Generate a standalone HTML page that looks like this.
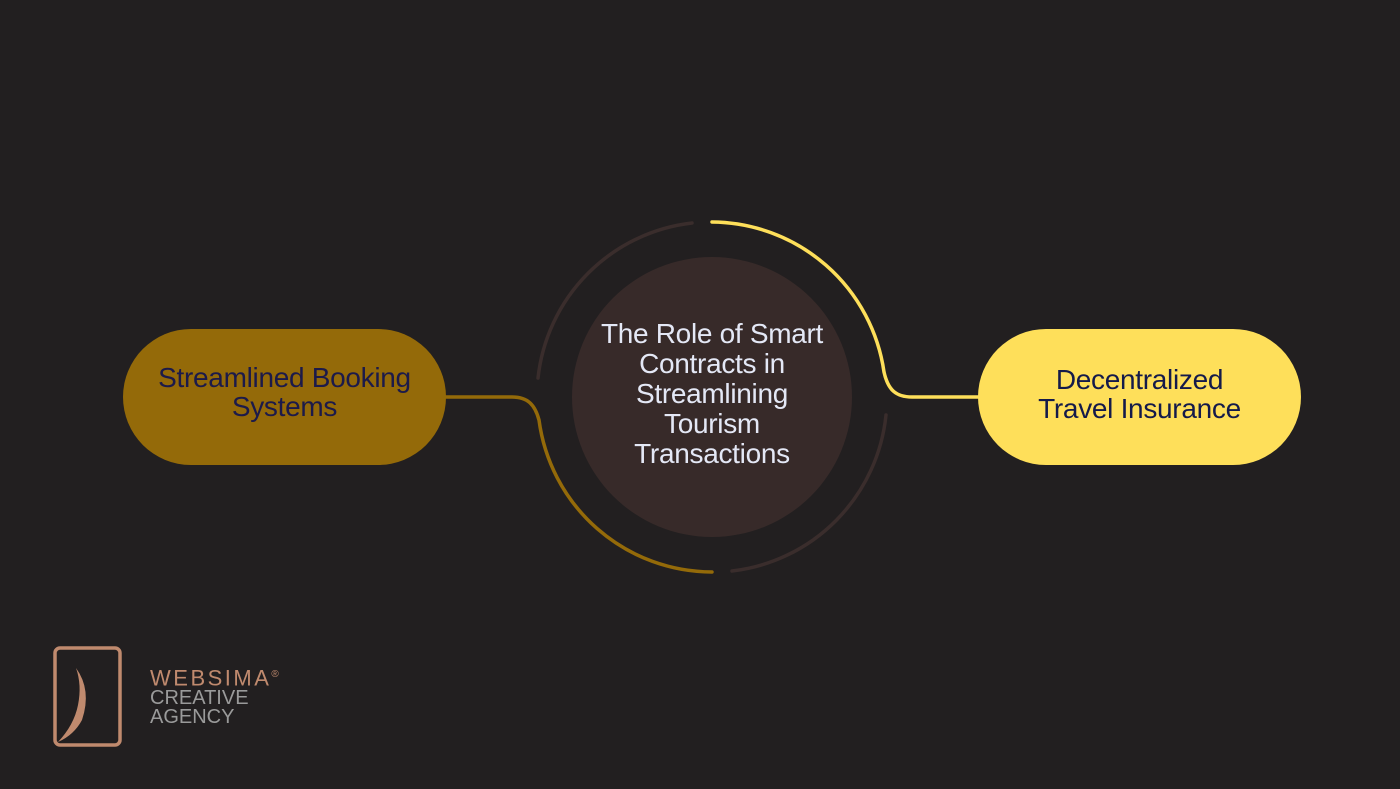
<!DOCTYPE html>
<html><head><style>
body{margin:0;width:1400px;height:789px;background:#221f20;overflow:hidden;position:relative;font-family:"Liberation Sans",sans-serif}
.t{position:absolute;text-align:center;font-size:28px;line-height:29px;letter-spacing:-0.3px}
</style></head><body>
<svg width="1400" height="789" style="position:absolute;left:0;top:0">
<rect x="123" y="329" width="323" height="136" rx="68" fill="#946a09"/>
<rect x="978" y="329" width="323" height="136" rx="68" fill="#fedf5a"/>
<circle cx="712" cy="397" r="140" fill="#372a29"/>
<g fill="none" stroke-width="3.5" stroke-linecap="round">
<path d="M538 378 A175 175 0 0 1 692 223" stroke="#3a2d2c"/>
<path d="M732 571 A175 175 0 0 0 886 415" stroke="#3a2d2c"/>
<path d="M712 222 A175 175 0 0 1 884 372 C888 390 896 397 912 397 L978 397" stroke="#fedf5a"/>
<path d="M446 397 L512 397 C528 397 535 405 539 420 A175 175 0 0 0 712 572" stroke="#946a09"/>
</g>
<g fill="none" stroke="#c08a6e" stroke-width="3.5">
<rect x="55" y="648" width="65" height="97" rx="5"/>
</g>
<path d="M76 668 Q92 690 82 720 Q74 735 58 742 Q74 725 78 705 Q82 685 76 668Z" fill="#c08a6e"/>
</svg>
<div class="t" style="left:103px;top:363px;width:363px;color:#1c1a4a">Streamlined Booking<br>Systems</div>
<div class="t" style="left:958px;top:365px;width:363px;color:#141a4a">Decentralized<br>Travel Insurance</div>
<div class="t" style="left:552px;top:319px;width:320px;color:#e4e8f6;line-height:30px">The Role of Smart<br>Contracts in<br>Streamlining<br>Tourism<br>Transactions</div>
<div style="position:absolute;left:150px;top:665px;font-size:22px;line-height:20px;color:#c08a6e;letter-spacing:2.5px">WEBSIMA<sup style="font-size:10px">®</sup></div>
<div style="position:absolute;left:150px;top:689px;font-size:20px;line-height:19px;color:#9a9a9a">CREATIVE<br>AGENCY</div>
</body></html>
